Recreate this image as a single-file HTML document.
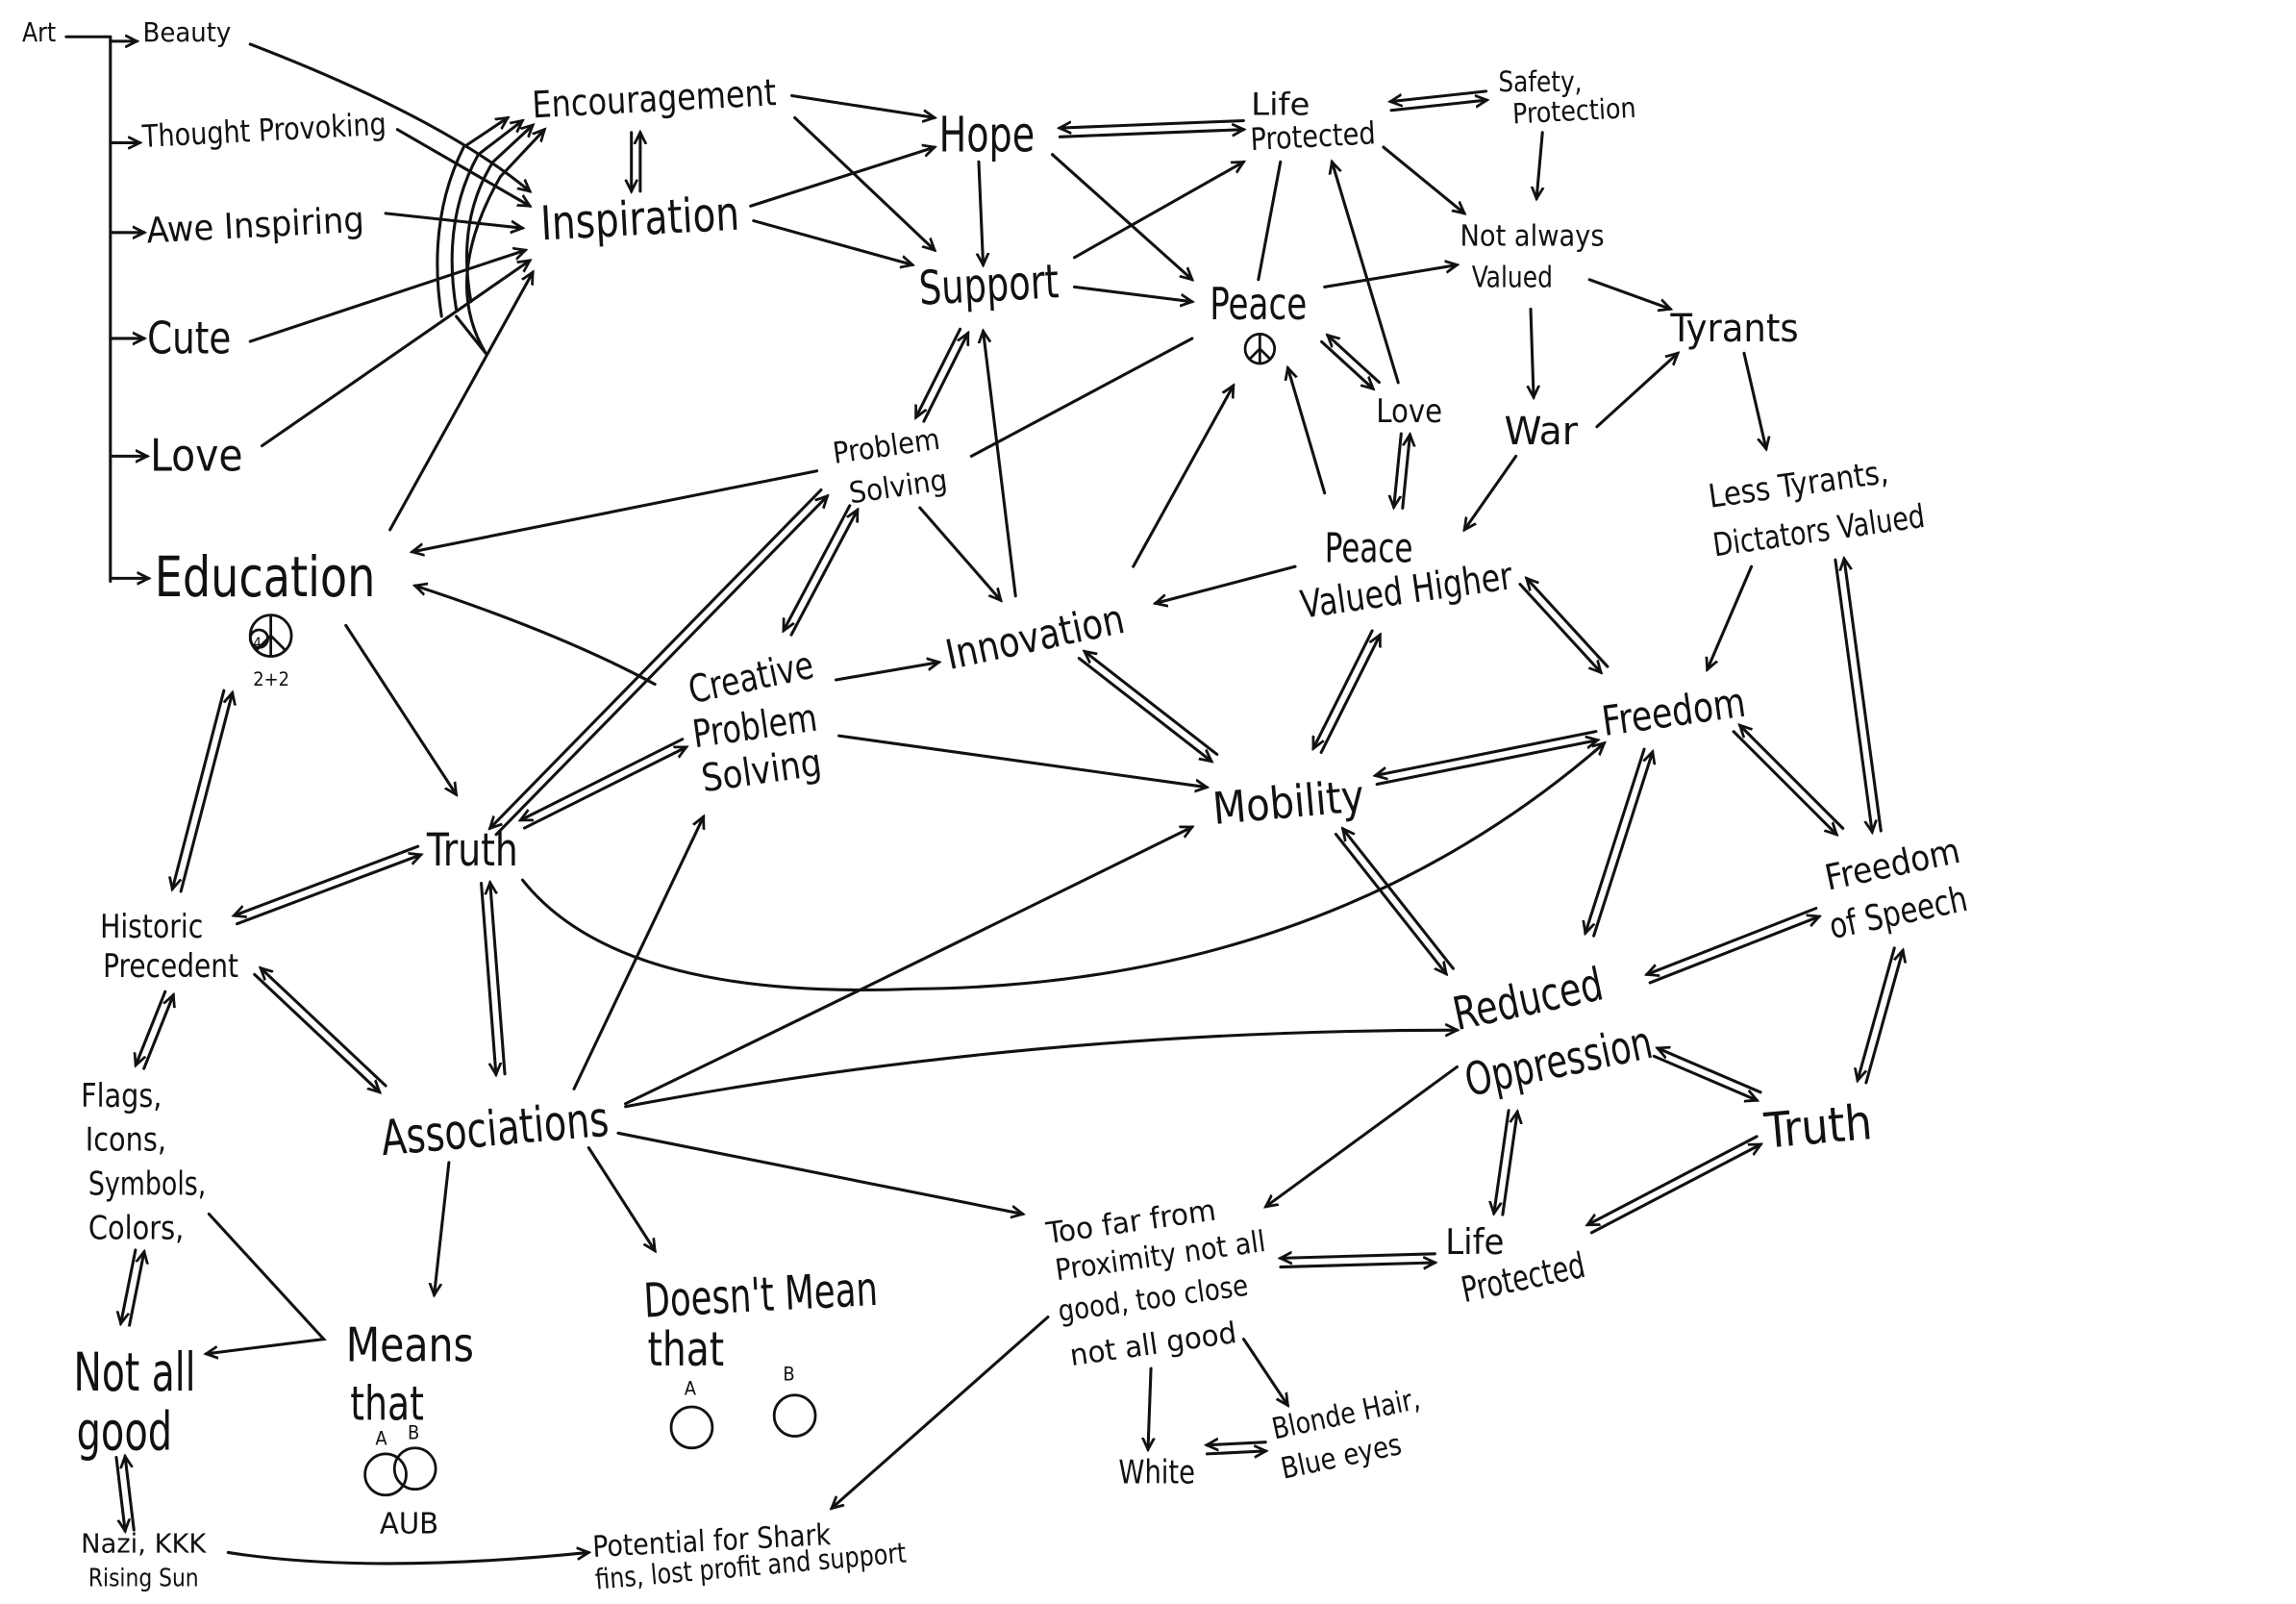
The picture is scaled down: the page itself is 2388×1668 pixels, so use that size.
<!DOCTYPE html>
<html><head><meta charset="utf-8"><style>
html,body{margin:0;padding:0;background:#fff;width:2388px;height:1668px;overflow:hidden}
svg{display:block}
text{font-family:"Liberation Sans Narrow","DejaVu Sans Condensed","Liberation Sans",sans-serif;fill:#111}
</style></head><body>
<svg id="s" width="2388" height="1668" viewBox="0 0 1560 1090" preserveAspectRatio="none" xmlns="http://www.w3.org/2000/svg">
<defs><marker id="a" markerWidth="10" markerHeight="10" refX="8" refY="5" orient="auto" markerUnits="userSpaceOnUse"><path d="M0,1 L8,5 L0,9" fill="none" stroke="#111" stroke-width="1.8"/></marker></defs>
<g id="e" stroke="#111" stroke-width="2" fill="none" stroke-linecap="round"></g>
<g id="t"></g>
<g stroke="#111" stroke-width="1.8" fill="none">
<circle cx="184" cy="432" r="14"/><circle cx="176" cy="434" r="6"/>
<path d="M184,418 V446 M184,432 L174,442 M184,432 L194,442"/>
<circle cx="856" cy="237" r="10"/><path d="M856,227 V247 M856,237 L849,244 M856,237 L863,244"/>
<circle cx="470" cy="970" r="14"/><circle cx="540" cy="962" r="14"/>
<circle cx="262" cy="1002" r="14"/><circle cx="282" cy="998" r="14"/>
</g>
<g font-size="13"><text x="172" y="466">2+2</text><text x="465" y="948">A</text><text x="532" y="938">B</text><text x="255" y="982">A</text><text x="277" y="978">B</text><text x="172" y="440" font-size="10">4</text></g>
</svg>
<script>
var E=document.getElementById('e'),T=document.getElementById('t'),NS='http://www.w3.org/2000/svg';
function P(d,arr){var p=document.createElementNS(NS,'path');p.setAttribute('d',d);if(arr)p.setAttribute('marker-end','url(#a)');E.appendChild(p);}
function L(a,b,c,d){P('M'+a+','+b+' L'+c+','+d,1);}
function N(a,b,c,d){P('M'+a+','+b+' L'+c+','+d,0);}
function D(a,b,c,d){var dx=c-a,dy=d-b,l=Math.hypot(dx,dy),nx=-dy/l*3,ny=dx/l*3;L(a+nx,b+ny,c+nx,d+ny);L(c-nx,d-ny,a-nx,b-ny);}
function X(x,y,s,str,r,w){var t=document.createElementNS(NS,'text');t.setAttribute('x',x);t.setAttribute('y',y);t.setAttribute('font-size',s);if(r)t.setAttribute('transform','rotate('+r+' '+x+' '+y+')');if(w){t.setAttribute('textLength',w);t.setAttribute('lengthAdjust','spacingAndGlyphs');}t.textContent=str;T.appendChild(t);}
// tree
N(45,25,75,25);N(75,25,75,395);
[[28,95],[97,97],[158,100],[230,100],[310,102],[393,103]].forEach(function(v){L(75,v[0],v[1]-2,v[0]);});
P('M170,30 Q300,80 360,130',1);L(270,88,360,140);L(262,145,355,155);L(170,232,357,170);L(178,303,360,177);L(265,360,362,185);
P('M300,215 Q290,150 315,100 L345,80',1);P('M310,210 Q300,150 325,105 L355,82',1);P('M320,205 Q310,150 335,110 L362,85',1);P('M330,240 Q300,190 340,120 L370,88',1);N(310,215,330,240);
D(432,90,432,130);
L(538,65,635,80);L(540,80,635,170);L(510,140,635,100);L(512,150,620,180);
D(720,90,845,85);L(715,105,810,190);L(665,110,668,180);
L(730,175,845,110);L(730,195,810,205);
D(945,72,1010,65);L(940,100,995,145);L(1048,90,1044,135);
L(900,195,990,180);N(870,110,855,190);L(950,260,905,110);D(900,230,935,262);
L(1080,190,1135,210);L(1040,210,1042,270);L(1085,290,1140,240);L(1030,310,995,360);
L(1185,240,1200,305);D(955,295,950,345);L(900,335,875,250);L(770,385,838,262);
D(625,285,655,225);L(690,405,668,225);N(660,310,810,230);
L(555,320,280,375);L(625,345,680,408);D(580,345,535,430);D(560,335,335,565);
P('M445,465 Q380,430 282,398',1);L(568,462,638,450);L(570,500,820,535);D(465,505,355,560);
L(880,385,785,410);D(1035,395,1090,455);D(935,430,895,510);D(735,445,825,515);D(1085,500,935,530);
L(1190,385,1160,455);D(1250,380,1275,565);D(1180,495,1250,565);D(1120,510,1080,635);D(910,565,985,660);
D(1235,620,1120,665);D(1290,645,1265,735);D(1125,715,1195,745);D(1195,775,1080,835);D(1028,755,1018,825);
L(990,725,860,820);D(975,855,870,858);
P('M355,598 Q420,680 620,672 Q900,670 1090,505',1);
L(235,425,310,540);D(155,470,120,605);D(285,578,160,625);D(330,600,340,730);D(175,660,260,740);D(115,675,95,725);
D(95,850,85,900);P('M142,825 L220,910 L140,920',1);D(82,990,88,1040);
P('M155,1055 Q250,1070 400,1055',1);
L(390,740,478,555);P('M425,750 Q550,690 810,562',1);P('M425,752 Q700,700 990,700',1);L(420,770,695,825);L(305,790,295,880);L(400,780,445,850);
L(712,895,565,1025);L(782,930,780,985);L(845,910,875,955);D(820,985,860,983);
// text
X(15,28,18,'Art',0,23);X(97,28,18,'Beauty',0,60);X(97,100,21,'Thought Provoking',-3,166);X(100,165,24,'Awe Inspiring',-3,148);X(100,240,30,'Cute',0,57);X(102,320,30,'Love',0,63);X(105,405,38,'Education',0,150);
X(362,80,25,'Encouragement',-3,166);X(368,163,32,'Inspiration',-3,135);X(638,103,33,'Hope',0,65);X(625,207,32,'Support',-3,95);
X(850,78,21,'Life',0,40);X(850,102,21,'Protected',-3,85);X(1018,62,19,'Safety,',0,57);X(1028,84,19,'Protection',-3,84);
X(992,167,20,'Not always',0,98);X(1000,195,20,'Valued',0,55);X(822,217,30,'Peace',0,66);X(935,287,22,'Love',0,45);X(1135,232,26,'Tyrants',0,87);X(1022,302,26,'War',0,50);
X(567,315,20,'Problem',-8,73);X(578,342,20,'Solving',-8,67);X(1162,345,22,'Less Tyrants,',-8,123);X(1165,378,22,'Dictators Valued',-8,145);
X(900,382,28,'Peace',0,60);X(885,420,26,'Valued Higher',-8,145);X(645,455,28,'Innovation',-12,123);
X(470,478,26,'Creative',-12,86);X(472,508,26,'Problem',-8,85);X(478,538,26,'Solving',-8,82);X(1090,500,28,'Freedom',-8,98);X(825,560,30,'Mobility',-5,103);
X(290,588,31,'Truth',0,62);X(68,637,22,'Historic',0,70);X(70,664,22,'Precedent',0,92);X(1242,605,24,'Freedom',-12,93);X(1245,638,24,'of Speech',-12,95);
X(990,700,31,'Reduced',-12,103);X(998,745,31,'Oppression',-12,129);X(260,785,33,'Associations',-5,155);X(1200,780,33,'Truth',-5,73);
X(55,752,22,'Flags,',0,55);X(58,782,22,'Icons,',0,55);X(60,812,22,'Symbols,',0,80);X(60,842,22,'Colors,',0,65);
X(712,845,20,'Too far  from',-8,116);X(718,870,20,'Proximity  not all',-8,144);X(720,898,20,'good, too close',-8,130);X(728,928,20,'not all good',-8,114);
X(982,852,24,'Life',0,40);X(995,885,24,'Protected',-12,85);X(438,895,32,"Doesn't Mean",-3,159);X(440,928,32,'that',0,52);
X(235,925,32,'Means',0,87);X(238,965,32,'that',0,50);X(50,945,36,'Not all',0,83);X(52,985,36,'good',0,65);
X(760,1008,22,'White',0,52);X(866,978,20,'Blonde Hair,',-12,102);X(872,1005,20,'Blue eyes',-12,83);
X(55,1055,18,'Nazi, KKK',0,85);X(60,1078,17,'Rising Sun',0,75);X(258,1042,20,'AUB',0,40);
X(403,1058,20,'Potential for Shark',-3,162);X(405,1080,19,'fins, lost profit and support',-5,212);
</script>
</body></html>
